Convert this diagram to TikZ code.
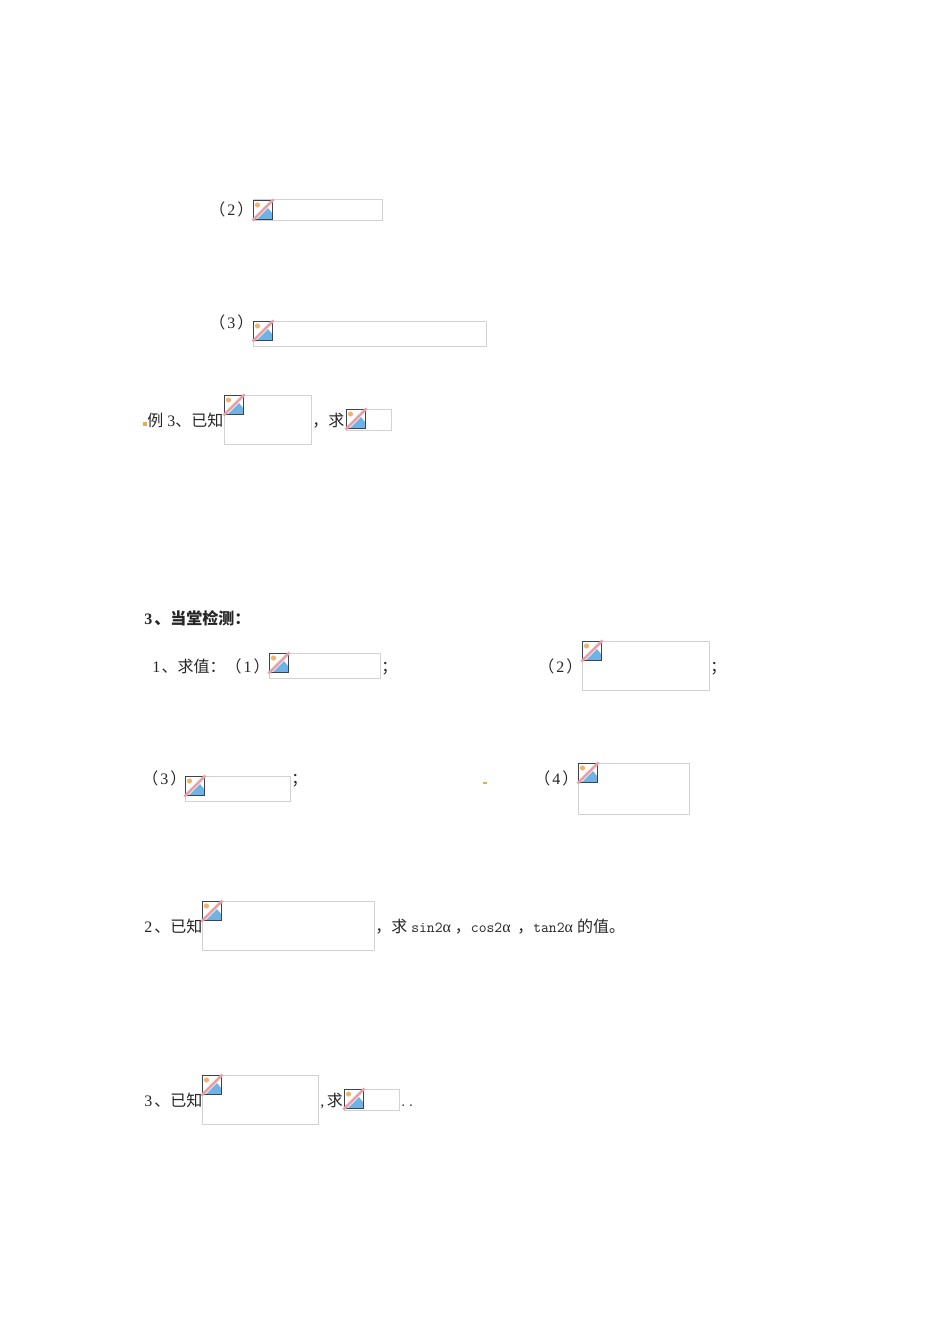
\documentclass[tikz,border=0pt]{standalone}
\usepackage{fontspec}
\setmainfont{Liberation Serif}
\newfontfamily\cjkfont{Noto Sans CJK SC}
\newfontfamily\grkfont{Liberation Serif}
\newcommand{\zh}[1]{{\cjkfont #1}}
\newcommand{\lat}[1]{{\fontsize{11.4pt}{12pt}\selectfont\ttfamily #1}}
\newcommand{\alp}{{\grkfont α}\kern3pt}
\newcommand{\num}[1]{\kern1.5pt #1\kern1.5pt}
\usepackage{tikz}
\usetikzlibrary{positioning}
\definecolor{boxgray}{HTML}{D2D2D2}
\definecolor{iconblue}{HTML}{6FB3E6}
\definecolor{iconsun}{HTML}{F2B36B}
\definecolor{iconline}{HTML}{E6A0A6}
\definecolor{icondark}{HTML}{3A4450}
\definecolor{specdot}{HTML}{E0B050}
\tikzset{
    txt/.style = {anchor=base west, inner sep=0pt, font=\fontsize{12pt}{12pt}\selectfont, text=black!85},
    imgbox/.style = {draw=boxgray, line width=0.75pt, anchor=north west, inner sep=0pt, outer sep=0pt},
    noimg/.pic = {
        \fill[white] (0,0) rectangle (20,20);
        \fill[iconblue] (4,19) -- (15,8) -- (19,13) -- (19,19) -- cycle;
        \fill[iconsun] (4.5,5) circle (2.6);
        \draw[icondark, line width=1.1pt] (0.7,0.7) rectangle (19.3,19.3);
        \draw[iconline, line width=2pt] (-0.5,20.5) -- (20.5,-0.5);
    }
}
\begin{document}
\begin{tikzpicture}[x=0.75pt, y=-0.75pt]
    \useasboundingbox (0,0) rectangle (950,1344);
    % image boxes
    \node[imgbox, minimum width=96.75pt, minimum height=15.75pt] (b2) at (253,200) {};
    \node[imgbox, minimum width=174.75pt, minimum height=18.75pt] (b3) at (253,321) {};
    \node[imgbox, minimum width=65.25pt, minimum height=36.75pt] (ea) at (224,395) {};
    \node[imgbox, minimum width=33.75pt, minimum height=15.75pt] (eb) at (346,409) {};
    \node[imgbox, minimum width=83.25pt, minimum height=18.75pt] (q1) at (269,653) {};
    \node[imgbox, minimum width=95.25pt, minimum height=36.75pt] (q2) at (582,641) {};
    \node[imgbox, minimum width=78.75pt, minimum height=18.75pt] (q3) at (185,776) {};
    \node[imgbox, minimum width=83.25pt, minimum height=38.25pt] (q4) at (578,763) {};
    \node[imgbox, minimum width=129pt, minimum height=36.75pt] (r2) at (202,901) {};
    \node[imgbox, minimum width=87pt, minimum height=36.75pt] (s1) at (202,1075) {};
    \node[imgbox, minimum width=41.25pt, minimum height=15.75pt] (s2) at (344,1089) {};
    \foreach \b in {b2,b3,ea,eb,q1,q2,q3,q4,r2,s1,s2}
        \pic at (\b.north west) {noimg};
    % text
    \node[txt] (t2) at (209,216) {\zh{（}\num{2}\zh{）}};
    \node[txt] (t3) at (209,328) {\zh{（}\num{3}\zh{）}};
    \node[txt] (ex) at (147,426) {\zh{例} 3\zh{、已知}};
    \node[txt] (exq) at (312,426) {\zh{，求}};
    \node[txt, font=\fontsize{12pt}{12pt}\selectfont\bfseries] (head) at (144,624) {3\kern1.5pt\zh{、当堂检测：}};
    \node[txt] (q1t) at (152,672) {1\kern1pt\zh{、求值：（}\num{1}\zh{）}};
    \node[txt] (q1e) at (381,672) {\zh{；}};
    \node[txt] (q2t) at (538,672) {\zh{（}\num{2}\zh{）}};
    \node[txt] (q2e) at (710,672) {\zh{；}};
    \node[txt] (q3t) at (142,784) {\zh{（}\num{3}\zh{）}};
    \node[txt] (q3e) at (291,784) {\zh{；}};
    \node[txt] (q4t) at (534,784) {\zh{（}\num{4}\zh{）}};
    \node[txt] (r1) at (144,932) {2\kern1.5pt\zh{、已知}};
    \node[txt] (r3) at (375,932) {\zh{，求} \lat{sin2}\alp\zh{，}\lat{cos2}\alp\kern2pt\zh{，}\lat{tan2}\alp\zh{的值。}};
    \node[txt] (s0) at (144,1106) {3\kern1.5pt\zh{、已知}};
    \node[txt] (s3) at (320,1106) {,\kern2pt\zh{求}};
    \node[txt] (s4) at (399,1106) {\lat{..}};
    % specks
    \fill[specdot] (143,422) rectangle (147,426);
    \fill[specdot] (483,782) rectangle (487,784);
\end{tikzpicture}
\end{document}
